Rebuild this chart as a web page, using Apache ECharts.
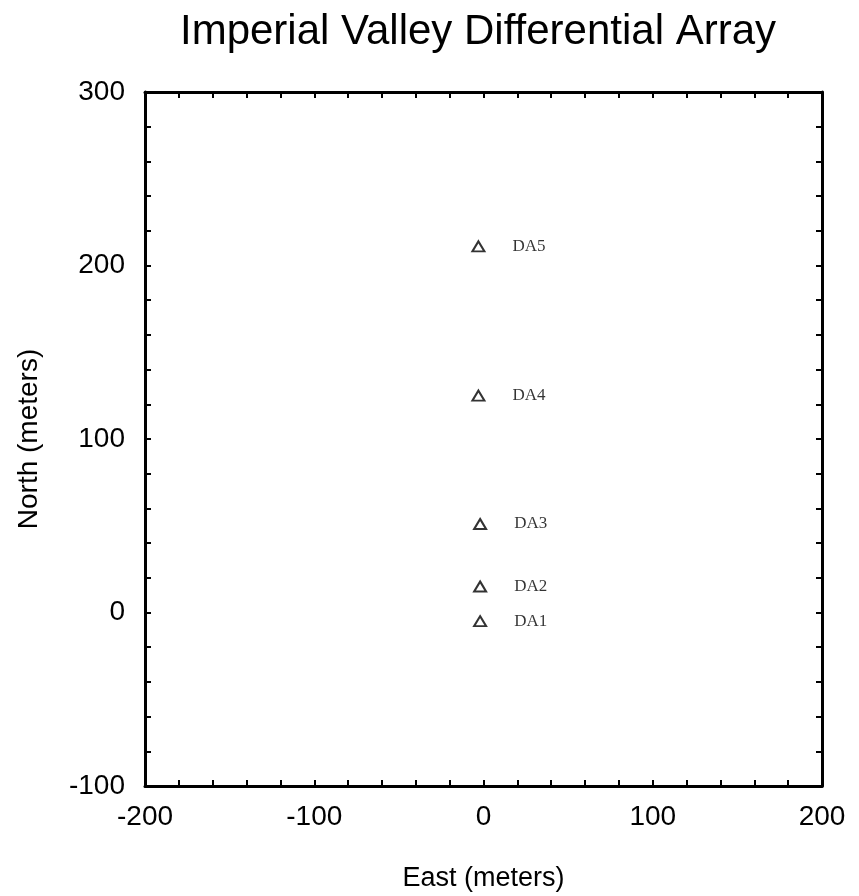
<!DOCTYPE html>
<html><head><meta charset="utf-8">
<script src="https://cdn.jsdelivr.net/npm/echarts@6/dist/echarts.min.js"></script>
<style>html,body{margin:0;padding:0;background:#fff}#c{width:859px;height:896px}</style>
</head><body><div id="c"></div>
<script>
const stations = ['DA1','DA2','DA3','DA4','DA5'];
const east = [-2, -2, -2, -3, -3];
const north = [-5, 15, 51, 125, 211];
const xTickLabels = [-200, -100, 0, 100, 200];
const yTickLabels = [-100, 0, 100, 200, 300];

const chart = echarts.init(document.getElementById('c'));
const sans = '"Liberation Sans", Arial, Helvetica, sans-serif';
const serif = '"Liberation Serif", "Times New Roman", serif';
const lbl = (list) => (v) => list.indexOf(v) >= 0 ? String(v) : '';
const axisBase = {
  interval: 20,
  axisLine: {show: true, onZero: false, lineStyle: {color: '#000', width: 3}},
  axisTick: {show: true, inside: true, length: 6, lineStyle: {color: '#000', width: 2}},
  splitLine: {show: false}
};
chart.setOption({
  backgroundColor: '#fff',
  animation: false,
  title: {text: 'Imperial Valley Differential Array', left: 473, top: 6, textAlign: 'center',
    textStyle: {fontFamily: sans, fontSize: 42, fontWeight: 'normal', color: '#000'}},
  grid: {left: 145, right: 37, top: 92, bottom: 110, containLabel: false, outerBoundsMode: 'none'},
  xAxis: [
    Object.assign({}, axisBase, {type: 'value', min: -200, max: 200, position: 'bottom',
      name: 'East (meters)', nameLocation: 'middle', nameGap: 79,
      nameTextStyle: {fontFamily: sans, fontSize: 27, color: '#000'},
      axisLabel: {formatter: lbl(xTickLabels), margin: 17, fontFamily: sans, fontSize: 28, color: '#000', showMinLabel: true, showMaxLabel: true}}),
    Object.assign({}, axisBase, {type: 'value', min: -200, max: 200, position: 'top', axisLabel: {show: false}})
  ],
  yAxis: [
    Object.assign({}, axisBase, {type: 'value', min: -100, max: 300, position: 'left',
      name: 'North (meters)', nameLocation: 'middle', nameGap: 102, nameRotate: 90,
      nameTextStyle: {fontFamily: sans, fontSize: 28, color: '#000'},
      axisLabel: {formatter: lbl(yTickLabels), margin: 20, fontFamily: sans, fontSize: 28, color: '#000', showMinLabel: true, showMaxLabel: true}}),
    Object.assign({}, axisBase, {type: 'value', min: -100, max: 300, position: 'right', axisLabel: {show: false}})
  ],
  series: [{
    type: 'scatter',
    xAxisIndex: 0, yAxisIndex: 0,
    symbol: 'triangle',
    symbolSize: [12, 10],
    itemStyle: {color: '#fff', borderColor: '#000', borderWidth: 2},
    label: {show: true, position: 'right', distance: 27, formatter: (p) => p.name,
      fontFamily: serif, fontSize: 17, color: '#000'},
    data: stations.map((s, i) => ({name: s, value: [east[i], north[i]]}))
  }]
});
</script></body></html>
